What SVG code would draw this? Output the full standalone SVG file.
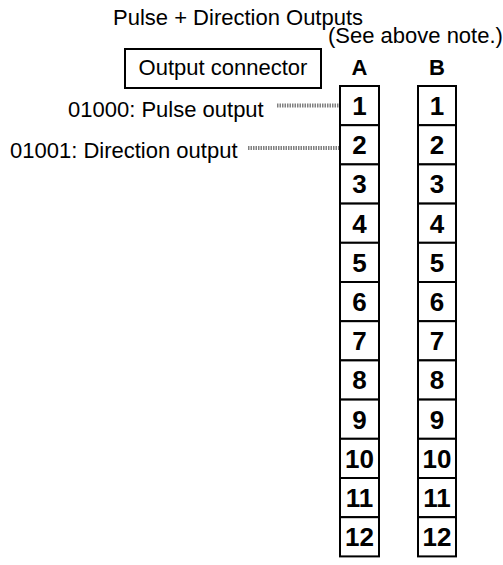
<svg xmlns="http://www.w3.org/2000/svg" width="503" height="565" viewBox="0 0 503 565">
<style>
text{font-family:"Liberation Sans",Arial,sans-serif;fill:#000}
.lbl{font-size:22px}
.hdr{font-size:22px;font-weight:bold;text-anchor:middle}
.num{font-size:26px;font-weight:bold;text-anchor:middle}
.cell{fill:#fff;stroke:#000;stroke-width:2}
.lead{stroke:#7f7f7f;stroke-width:4;stroke-dasharray:1.5 1;fill:none}
</style>
<rect width="503" height="565" fill="#fff"/>
<g id="title"><text class="lbl" x="113" y="25">Pulse + Direction Outputs</text></g>
<g id="note"><text class="lbl" x="328" y="43">(See above note.)</text></g>
<g id="output-connector">
<rect x="125" y="49" width="196" height="39" fill="#fff" stroke="#000" stroke-width="2"/>
<text class="lbl" x="223" y="75" text-anchor="middle">Output connector</text>
</g>
<g id="label-pulse"><text class="lbl" x="68" y="117">01000: Pulse output</text></g>
<g id="label-direction"><text class="lbl" x="10" y="158">01001: Direction output</text></g>
<g id="connectors">
<line class="lead" x1="277" y1="105.5" x2="340" y2="105.5"/>
<line class="lead" x1="248" y1="148" x2="340" y2="148"/>
</g>
<g id="column-A">
<text class="hdr" x="359.5" y="75">A</text>
<rect class="cell" x="340" y="86" width="39" height="39.2"/>
<rect class="cell" x="340" y="125.2" width="39" height="39.2"/>
<rect class="cell" x="340" y="164.4" width="39" height="39.2"/>
<rect class="cell" x="340" y="203.6" width="39" height="39.2"/>
<rect class="cell" x="340" y="242.8" width="39" height="39.2"/>
<rect class="cell" x="340" y="282" width="39" height="39.2"/>
<rect class="cell" x="340" y="321.2" width="39" height="39.2"/>
<rect class="cell" x="340" y="360.4" width="39" height="39.2"/>
<rect class="cell" x="340" y="399.6" width="39" height="39.2"/>
<rect class="cell" x="340" y="438.8" width="39" height="39.2"/>
<rect class="cell" x="340" y="478" width="39" height="39.2"/>
<rect class="cell" x="340" y="517.2" width="39" height="39.2"/>
<text class="num" x="359.5" y="115">1</text>
<text class="num" x="359.5" y="154.2">2</text>
<text class="num" x="359.5" y="193.4">3</text>
<text class="num" x="359.5" y="232.6">4</text>
<text class="num" x="359.5" y="271.8">5</text>
<text class="num" x="359.5" y="311">6</text>
<text class="num" x="359.5" y="350.2">7</text>
<text class="num" x="359.5" y="389.4">8</text>
<text class="num" x="359.5" y="428.6">9</text>
<text class="num" x="359.5" y="467.8">10</text>
<text class="num" x="359.5" y="507">11</text>
<text class="num" x="359.5" y="546.2">12</text>
</g>
<g id="column-B">
<text class="hdr" x="437" y="75">B</text>
<rect class="cell" x="418" y="86" width="38" height="39.2"/>
<rect class="cell" x="418" y="125.2" width="38" height="39.2"/>
<rect class="cell" x="418" y="164.4" width="38" height="39.2"/>
<rect class="cell" x="418" y="203.6" width="38" height="39.2"/>
<rect class="cell" x="418" y="242.8" width="38" height="39.2"/>
<rect class="cell" x="418" y="282" width="38" height="39.2"/>
<rect class="cell" x="418" y="321.2" width="38" height="39.2"/>
<rect class="cell" x="418" y="360.4" width="38" height="39.2"/>
<rect class="cell" x="418" y="399.6" width="38" height="39.2"/>
<rect class="cell" x="418" y="438.8" width="38" height="39.2"/>
<rect class="cell" x="418" y="478" width="38" height="39.2"/>
<rect class="cell" x="418" y="517.2" width="38" height="39.2"/>
<text class="num" x="437" y="115">1</text>
<text class="num" x="437" y="154.2">2</text>
<text class="num" x="437" y="193.4">3</text>
<text class="num" x="437" y="232.6">4</text>
<text class="num" x="437" y="271.8">5</text>
<text class="num" x="437" y="311">6</text>
<text class="num" x="437" y="350.2">7</text>
<text class="num" x="437" y="389.4">8</text>
<text class="num" x="437" y="428.6">9</text>
<text class="num" x="437" y="467.8">10</text>
<text class="num" x="437" y="507">11</text>
<text class="num" x="437" y="546.2">12</text>
</g>
</svg>
